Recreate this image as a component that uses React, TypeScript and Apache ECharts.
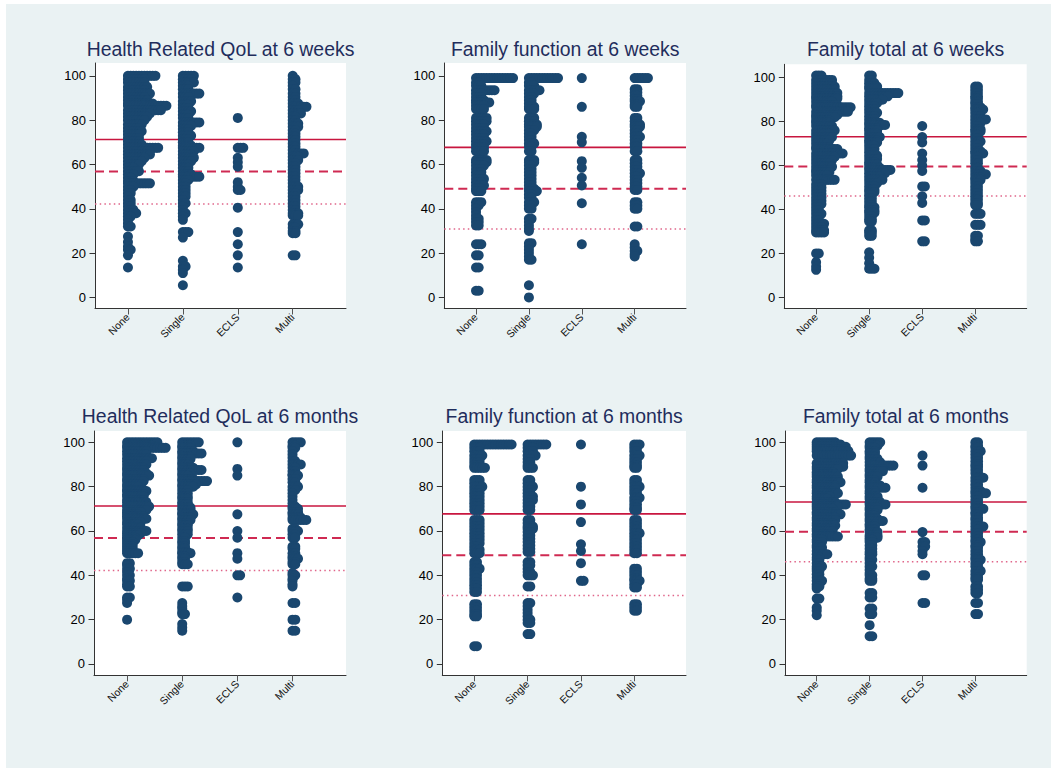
import React, { useEffect, useRef } from "react";
import * as echarts from "echarts";

// ---------- categories / titles ----------
const categories = ["None", "Single", "ECLS", "Multi"];
const panelTitles = [
  "Health Related QoL at 6 weeks",
  "Family function at 6 weeks",
  "Family total at 6 weeks",
  "Health Related QoL at 6 months",
  "Family function at 6 months",
  "Family total at 6 months",
];
const yTicks = [0, 20, 40, 60, 80, 100];

// reference lines: [solid, dashed, dotted]
const hrqolLines = [71.3, 56.8, 42.2];
const ffLines = [67.7, 49.1, 30.9];
const ftLines = [73.1, 59.6, 46.1];

// ---------- dot rows: [value, number of dots] ----------
// Health Related QoL at 6 weeks
const hrqol6wNone = [[100,11],[98.5,7],[97,7],[95,8],[93.5,7],[92,9],[90.5,7],[89,8],[87.5,10],[86.5,15],[84.5,13],[83,9],[81.5,8],[80,7],[78,6],[76.5,5],[75,6],[73.5,5],[72,5],[70.5,5],[69,6],[67.5,12],[66,9],[64.5,9],[63,7],[61.5,6],[60,5],[58.5,3],[57,5],[55.5,3],[54,2],[52.5,3],[51.5,9],[50,3],[48.5,2],[47,2],[45.5,1],[44,2],[42.5,2],[41,2],[39.5,3],[38,4],[36.5,2],[35,1],[33.5,1],[32,2],[27.5,1],[25,1],[23,1],[21.5,2],[19,1],[13.5,1]];
const hrqol6wSingle = [[100,5],[98.5,4],[97,5],[95.5,3],[94,3],[92,7],[90.5,3],[88.5,4],[87,3],[85.5,3],[84,4],[82.5,3],[81,3],[79,7],[77.5,4],[76,3],[74.5,3],[73,4],[71.5,3],[70,3],[68.5,4],[67.5,7],[66,5],[64.5,4],[63,5],[61.5,4],[60,3],[58.5,3],[57,3],[55.5,4],[54.5,7],[53,3],[51.5,2],[50,2],[48.5,2],[47,2],[45.5,2],[44,1],[42.5,2],[41,1],[39.5,1],[38,2],[36.5,1],[35,1],[29.5,3],[27,1],[16.5,1],[14,2],[12.5,1],[11,1],[5.5,1]];
const hrqol6wEcls = [[81,1],[67.5,3],[63,1],[61,1],[59,1],[52,1],[50,1],[48.5,2],[40.5,1],[29.5,1],[24,1],[19,1],[13.5,1]];
const hrqol6wMulti = [[100,1],[98.5,2],[97,2],[95.5,1],[94,2],[92,2],[90.5,2],[89,2],[87.5,3],[86,6],[84.5,3],[83,4],[81.5,2],[80,2],[78.5,3],[77,3],[75.5,2],[74,2],[72.5,2],[71,2],[69.5,2],[68,2],[66.5,2],[65,5],[63.5,3],[62,3],[60.5,2],[59,2],[57.5,2],[56,2],[54.5,2],[53,2],[51.5,2],[50,3],[48.5,3],[47,2],[45.5,2],[44,2],[42.5,2],[41,2],[39.5,2],[38,3],[37,3],[33,3],[31.5,2],[30,2],[29,2],[19,2]];

// Family function at 6 weeks
const ff6wNone = [[99,15],[97,2],[95.5,3],[93.5,8],[92,3],[90.5,3],[89,4],[88,6],[86.5,4],[85,4],[81,5],[79.5,5],[78,4],[76.5,4],[75,5],[73.5,4],[72,4],[70.5,5],[69,4],[67.5,4],[66,4],[62,5],[61,5],[59.5,4],[58,3],[56.5,3],[55,3],[53.5,4],[52,3],[50.5,4],[49,3],[48,3],[43,3],[41.5,2],[40,1],[38.5,1],[37,1],[35.5,2],[34,2],[32.5,2],[24,3],[19,2],[13.5,2],[3,2]];
const ff6wSingle = [[99,12],[97,2],[95.5,3],[93.5,5],[92,3],[90.5,2],[89,2],[87.5,2],[86,3],[85,3],[81,3],[79.5,3],[78,4],[77,4],[75.5,3],[74,2],[72.5,2],[71,2],[69.5,3],[68,2],[66,2],[62,3],[61,3],[59.5,2],[58,2],[56.5,2],[55,2],[53.5,2],[52,2],[50.5,2],[49,3],[48,4],[46.5,2],[45,2],[43,3],[41.5,2],[40,2],[35.5,2],[34,1],[32.5,1],[31,1],[30,1],[24.5,2],[23,1],[21.5,1],[20,1],[18.5,1],[17,2],[5.5,1],[0,1]];
const ff6wEcls = [[99,1],[86,1],[72.5,1],[70,1],[61.5,1],[58.5,1],[54,1],[50.5,1],[42.5,1],[24,1]];
const ff6wMulti = [[99,6],[94,2],[92.5,2],[91,2],[89.5,2],[88.5,3],[87,2],[86,2],[81,2],[79.5,2],[78,3],[77,3],[75.5,2],[74,2],[72.5,3],[71,2],[69.5,2],[68,2],[66,2],[62,2],[60.5,2],[59,2],[57.5,2],[56,3],[54.5,2],[53,2],[51.5,2],[50,2],[48.5,2],[43,2],[41.5,2],[40,2],[32,2],[24,1],[22.5,1],[21,2],[19.5,1],[18.5,1]];

// Family total at 6 weeks
const ft6wNone = [[101,3],[99,7],[97.5,7],[96,8],[94.5,8],[93,9],[91.5,9],[90.5,9],[89,7],[87.5,9],[86.5,14],[84.5,13],[83,9],[82,8],[80.5,6],[79.5,6],[78,7],[76,8],[74.5,6],[73,7],[71.5,6],[70,5],[68.5,6],[67.5,9],[65.5,11],[64,8],[62.5,7],[61,6],[59.5,7],[58,6],[57,6],[55.5,5],[53.5,8],[51.5,3],[50,3],[48.5,3],[47,3],[45.5,3],[44,3],[42.5,3],[41,2],[39.5,2],[38,3],[36.5,2],[35,2],[33.5,4],[32,3],[30.5,4],[29.5,4],[20,2],[16,1],[14,1],[12.5,1]];
const ft6wSingle = [[101,2],[99,2],[97.5,3],[96,4],[95,4],[93,12],[91.5,8],[90,6],[88.5,4],[87,3],[85.5,3],[84,4],[82.5,3],[81,3],[79.5,5],[78.5,7],[77,4],[76,4],[74.5,4],[73,5],[71.5,4],[70.5,4],[69,3],[67.5,3],[66,3],[64.5,4],[63,4],[61.5,3],[60.5,4],[59,5],[58,9],[56.5,7],[55,5],[53.5,6],[52,4],[50.5,3],[49,3],[48,3],[46.5,2],[45,2],[43.5,2],[42,2],[41,3],[39.5,3],[38.5,3],[37,2],[35.5,2],[34.5,2],[30.5,2],[29.5,2],[28,2],[20.5,1],[18,1],[15.5,1],[13,3]];
const ft6wEcls = [[78,1],[73,1],[70.5,1],[65.5,1],[62.5,1],[60,1],[57.5,1],[50.5,2],[46,1],[43,1],[35,2],[25.5,2]];
const ft6wMulti = [[96,2],[94.5,2],[93,2],[91.5,2],[90.5,2],[89,2],[88,2],[86.5,3],[85.5,4],[84,2],[82.5,3],[81,5],[79.5,3],[78,2],[76.5,3],[75.5,3],[74,2],[72.5,2],[71,3],[69.5,2],[68,2],[66.5,3],[65.5,4],[64,2],[62.5,2],[61,2],[59,2],[57.5,3],[56,5],[54.5,3],[53.5,3],[52,2],[50.5,2],[49,2],[47.5,2],[46,2],[44.5,2],[43,2],[42,2],[38,3],[33,3],[28,2],[26.5,1],[25.5,2]];

// Health Related QoL at 6 months
const hrqol6mNone = [[100,12],[98.5,10],[97.5,15],[96,8],[94.5,8],[92.8,10],[91.5,8],[90,8],[88.5,7],[87.5,7],[86,8],[85,9],[83.5,7],[82.5,7],[81,6],[80,5],[78.5,7],[78,8],[76.5,7],[75.5,7],[74,7],[73,8],[71.5,8],[71,9],[69.5,8],[68.5,6],[67.5,5],[66.5,7],[65.5,8],[64,6],[63,5],[61.5,6],[60,8],[59,6],[58,5],[57,4],[56,4],[55,3],[54,3],[53,3],[52,3],[51,3],[50,5],[45.5,2],[44.5,1],[43,2],[41.5,1],[40,2],[38.5,1],[37.5,2],[36,1],[35,2],[30,2],[29,1],[27.5,1],[20,1]];
const hrqol6mSingle = [[100,7],[98.5,4],[97.5,4],[96,5],[95,8],[93.5,4],[92.5,4],[91,3],[90,3],[88.5,5],[87.5,8],[86,4],[85,3],[83.5,5],[82.5,10],[81,6],[80,5],[78.5,3],[77,3],[75.5,3],[74.5,3],[73,3],[72,3],[70.5,4],[69.5,4],[68,4],[67.5,5],[66,4],[65,4],[63.5,3],[62.5,3],[61,3],[60,3],[58.5,3],[57,2],[55.5,2],[54.5,2],[53,2],[52,2],[50.5,3],[50,4],[48.5,2],[47.5,2],[46,2],[45,3],[35,3],[27.5,1],[26,1],[25,1],[23.5,1],[22.5,2],[18,1],[16.5,1],[15,1]];
const hrqol6mEcls = [[100,1],[88,1],[85,1],[67.5,1],[60,1],[57,1],[50,1],[47.5,1],[40,2],[30,1]];
const hrqol6mMulti = [[100,4],[98.5,2],[97.5,2],[96,1],[94.5,1],[93,1],[91.5,2],[90,4],[88.5,2],[87,2],[85.5,2],[85,3],[83.5,2],[82,2],[80,3],[78.5,2],[77,1],[75.5,1],[74,1],[72.5,1],[71,2],[70,3],[68.5,3],[67.5,3],[66,4],[65,6],[61,2],[60,3],[58.5,2],[57,2],[53,2],[52,2],[50,2],[48.5,2],[47.5,3],[46,2],[45,2],[41,1],[40,2],[38.5,1],[37.5,1],[36,1],[35,1],[27.5,2],[20,2],[15,2]];

// Family function at 6 months
const ff6mNone = [[99,15],[97.5,3],[96,3],[94,4],[92.5,3],[91,3],[89.5,3],[88.5,5],[83,3],[81.5,3],[80,4],[78.5,3],[77,3],[75.5,3],[74,3],[72.5,3],[71,3],[69.5,3],[65,3],[63.5,3],[62,3],[60.5,3],[59,3],[57.5,3],[56,3],[54.5,3],[53,2],[51.5,3],[50,3],[46,2],[44.5,2],[43,3],[41.5,2],[40,2],[38.5,2],[37,2],[35.5,2],[34,2],[32.5,2],[27,2],[25.5,2],[24,2],[22.5,2],[21.5,2],[8,2]];
const ff6mSingle = [[99,8],[97.5,3],[96,3],[94,4],[92.5,2],[91,2],[89.5,2],[88.5,3],[83,2],[81.5,2],[80,3],[78.5,2],[77,2],[75.5,3],[74,3],[72.5,2],[71,2],[69.5,2],[65,2],[63.5,2],[62,3],[61,3],[59.5,2],[58,2],[56.5,2],[55,2],[53.5,2],[52,2],[50.5,2],[46,2],[44.5,2],[43,1],[41.5,2],[40,3],[35,2],[27.5,2],[26,1],[24.5,1],[23,1],[21.5,1],[20,2],[18.5,2],[13.5,2]];
const ff6mEcls = [[99,1],[80,1],[72,1],[64,1],[54,1],[51,1],[45.5,1],[37.5,2]];
const ff6mMulti = [[99,3],[97.5,2],[96,2],[94,3],[92.5,2],[91,2],[89.5,2],[88.5,2],[83,2],[81.5,2],[80,3],[78.5,2],[77,2],[75,3],[73.5,2],[72,2],[70.5,2],[69.5,2],[65,2],[63.5,2],[62,2],[60.5,2],[59,3],[57.5,2],[56,2],[54.5,2],[53,2],[51.5,2],[50,2],[43,2],[41.5,2],[40,2],[38.5,2],[37.5,3],[36,2],[34.5,2],[27,2],[25.5,2],[24,2]];

// Family total at 6 months
const ft6mNone = [[100,8],[99,10],[98,12],[97,12],[96,13],[94,14],[90.5,11],[89,11],[88,9],[86.5,7],[85.5,8],[84.5,9],[83,9],[82,10],[80.5,8],[79.5,8],[78,7],[77,9],[75.5,6],[74.5,5],[73,8],[72,12],[71,9],[70,7],[68.5,8],[67.5,10],[66,8],[65,8],[63.5,7],[62.5,8],[61,7],[60,7],[58.5,6],[57.5,9],[56,3],[55,3],[53.5,2],[52.5,3],[51,3],[49.5,5],[48,2],[47,2],[45.5,2],[44,3],[43,2],[42,2],[40.5,2],[39,2],[37.5,3],[36,2],[35,2],[34,1],[29.5,2],[25.5,1],[24,1],[22,1]];
const ft6mSingle = [[100,5],[98.5,4],[97.5,3],[96,3],[95,3],[93.5,3],[92.5,4],[91,5],[89.5,10],[88,6],[87,6],[85.5,4],[84.5,4],[83,3],[82,3],[80.5,5],[79.5,7],[78,3],[77,3],[75.5,4],[74.5,4],[73,5],[72,7],[70.5,4],[69.5,4],[68,3],[67,3],[65.5,4],[64.5,6],[63,3],[62,3],[60.5,3],[59.5,4],[58,4],[57,4],[56,2],[55,2],[53.5,2],[52,2],[50.5,2],[49.5,2],[48,1],[47,2],[45.5,1],[44,2],[42.5,1],[41,1],[40,2],[38.5,2],[37.5,2],[32,2],[30,2],[25,2],[22.5,2],[17.5,1],[12.5,2]];
const ft6mEcls = [[94,1],[89.5,1],[79.5,1],[59.5,1],[55,2],[53,2],[51,1],[49.5,1],[40,2],[27.5,2]];
const ft6mMulti = [[100,2],[98.5,2],[97.5,2],[96,3],[94.5,2],[93,2],[91.5,2],[90,2],[89,2],[87.5,2],[86,2],[84,4],[82.5,2],[81,2],[79.5,2],[78,3],[77,5],[75.5,2],[74,2],[72.5,2],[71,2],[70,4],[68.5,2],[67.5,2],[66,2],[65,2],[63.5,2],[62,4],[60.5,2],[59,2],[57.5,2],[56,2],[55,3],[53.5,2],[52.5,2],[51,2],[49.5,2],[48,2],[47,3],[45.5,2],[44,2],[42,3],[40.5,2],[39,2],[38,2],[35,2],[33.5,2],[32,2],[27.5,2],[22.5,2]];

const panelGroups = [
  [hrqol6wNone, hrqol6wSingle, hrqol6wEcls, hrqol6wMulti],
  [ff6wNone, ff6wSingle, ff6wEcls, ff6wMulti],
  [ft6wNone, ft6wSingle, ft6wEcls, ft6wMulti],
  [hrqol6mNone, hrqol6mSingle, hrqol6mEcls, hrqol6mMulti],
  [ff6mNone, ff6mSingle, ff6mEcls, ff6mMulti],
  [ft6mNone, ft6mSingle, ft6mEcls, ft6mMulti],
];
const panelLines = [hrqolLines, ffLines, ftLines, hrqolLines, ffLines, ftLines];

// ---------- layout (pixels) ----------
const layouts = [
  { left: 95, top: 63, width: 251, height: 245.5, ymin: -5, ymax: 105.8, titleTop: 39.5 },
  { left: 444.3, top: 63, width: 241.7, height: 245.5, ymin: -5, ymax: 105.8, titleTop: 39.5 },
  { left: 784.3, top: 64.3, width: 242.4, height: 244, ymin: -5, ymax: 106.1, titleTop: 39.5 },
  { left: 94, top: 431, width: 252, height: 244.3, ymin: -5.1, ymax: 105.1, titleTop: 406.5 },
  { left: 442.3, top: 431, width: 243.7, height: 244.3, ymin: -5.1, ymax: 105.1, titleTop: 406.5 },
  { left: 785, top: 431, width: 241.7, height: 244.3, ymin: -5.1, ymax: 105.1, titleTop: 406.5 },
];
const XMIN = 0.4;
const XMAX = 4.97;
const STEP = 0.05;
const DOT_R = 5;
const DOT_COLOR = "#1a476f";
const FONT = "'Liberation Sans', Arial, Helvetica, sans-serif";
const lineStyles = [
  { stroke: "#c8163f", lineWidth: 1.6, lineDash: null },
  { stroke: "#cf2a52", lineWidth: 2, lineDash: [9, 5] },
  { stroke: "#e0668a", lineWidth: 1.5, lineDash: [1.5, 3.2] },
];

export default function App() {
  const ref = useRef<HTMLDivElement>(null);
  useEffect(() => {
    if (!ref.current) return;
    const chart = echarts.init(ref.current, undefined, { renderer: "svg" });
    const grid: any[] = [];
    const xAxis: any[] = [];
    const yAxis: any[] = [];
    const series: any[] = [];
    const graphic: any[] = [];

    layouts.forEach((L, i) => {
      grid.push({
        left: L.left, top: L.top, width: L.width, height: L.height,
        show: true, backgroundColor: "#ffffff", borderWidth: 0, containLabel: false,
      });
      xAxis.push({
        type: "value", gridIndex: i, min: XMIN, max: XMAX,
        splitLine: { show: false },
        axisLine: { show: true, onZero: false, lineStyle: { color: "#333333", width: 1 } },
        axisTick: { show: true, customValues: [1, 2, 3, 4], length: 6, lineStyle: { color: "#555555" } },
        axisLabel: {
          customValues: [1, 2, 3, 4], rotate: 45, margin: 7,
          formatter: (v: number) => categories[Math.round(v) - 1] ?? "",
          fontSize: 10.5, color: "#111111", fontFamily: FONT,
        },
      });
      yAxis.push({
        type: "value", gridIndex: i, min: L.ymin, max: L.ymax,
        splitLine: { show: false },
        axisLine: { show: true, onZero: false, lineStyle: { color: "#333333", width: 1 } },
        axisTick: { show: true, customValues: yTicks, length: 5.5, lineStyle: { color: "#333333" } },
        axisLabel: { customValues: yTicks, margin: 9, fontSize: 13, color: "#000000", fontFamily: FONT },
      });
      // reference lines (drawn under the dots)
      series.push({
        type: "custom", xAxisIndex: i, yAxisIndex: i, z: 1, silent: true,
        data: panelLines[i].map((v, k) => [v, k]),
        encode: { y: 0 },
        renderItem: (params: any, api: any) => {
          const v = api.value(0);
          const k = api.value(1);
          const cs = params.coordSys;
          const y = api.coord([XMIN, v])[1];
          const st = lineStyles[k];
          return {
            type: "line",
            shape: { x1: cs.x, y1: y, x2: cs.x + cs.width, y2: y },
            style: { stroke: st.stroke, lineWidth: st.lineWidth, lineDash: st.lineDash || undefined },
          };
        },
      });
      // dots
      const data: number[][] = [];
      panelGroups[i].forEach((rows, g) => {
        rows.forEach(([v, n]) => data.push([g + 1, v, n]));
      });
      series.push({
        type: "custom", xAxisIndex: i, yAxisIndex: i, z: 2, silent: true,
        data, encode: { x: 0, y: 1 },
        renderItem: (_params: any, api: any) => {
          const cat = api.value(0);
          const v = api.value(1);
          const n = api.value(2);
          const children: any[] = [];
          for (let j = 0; j < n; j++) {
            const p = api.coord([cat + j * STEP, v]);
            children.push({ type: "circle", shape: { cx: p[0], cy: p[1], r: DOT_R }, style: { fill: DOT_COLOR } });
          }
          return { type: "group", children };
        },
      });
      graphic.push({
        type: "text", x: L.left + L.width / 2, y: L.titleTop, silent: true,
        style: {
          text: panelTitles[i], fill: "#1f2d5c", fontSize: 19.4, fontFamily: FONT,
          align: "center", verticalAlign: "top", textAlign: "center", textVerticalAlign: "top",
        },
      });
    });

    chart.setOption({
      animation: false,
      backgroundColor: "transparent",
      grid, xAxis, yAxis, series, graphic,
    });
    return () => chart.dispose();
  }, []);

  return (
    <div style={{ position: "fixed", left: 0, top: 0, width: 1051, height: 768, background: "#ffffff" }}>
      <div style={{ position: "absolute", left: 6, top: 4, width: 1045, height: 764, background: "#eaf2f3" }} />
      <div ref={ref} style={{ position: "absolute", left: 0, top: 0, width: 1051, height: 768 }} />
    </div>
  );
}
